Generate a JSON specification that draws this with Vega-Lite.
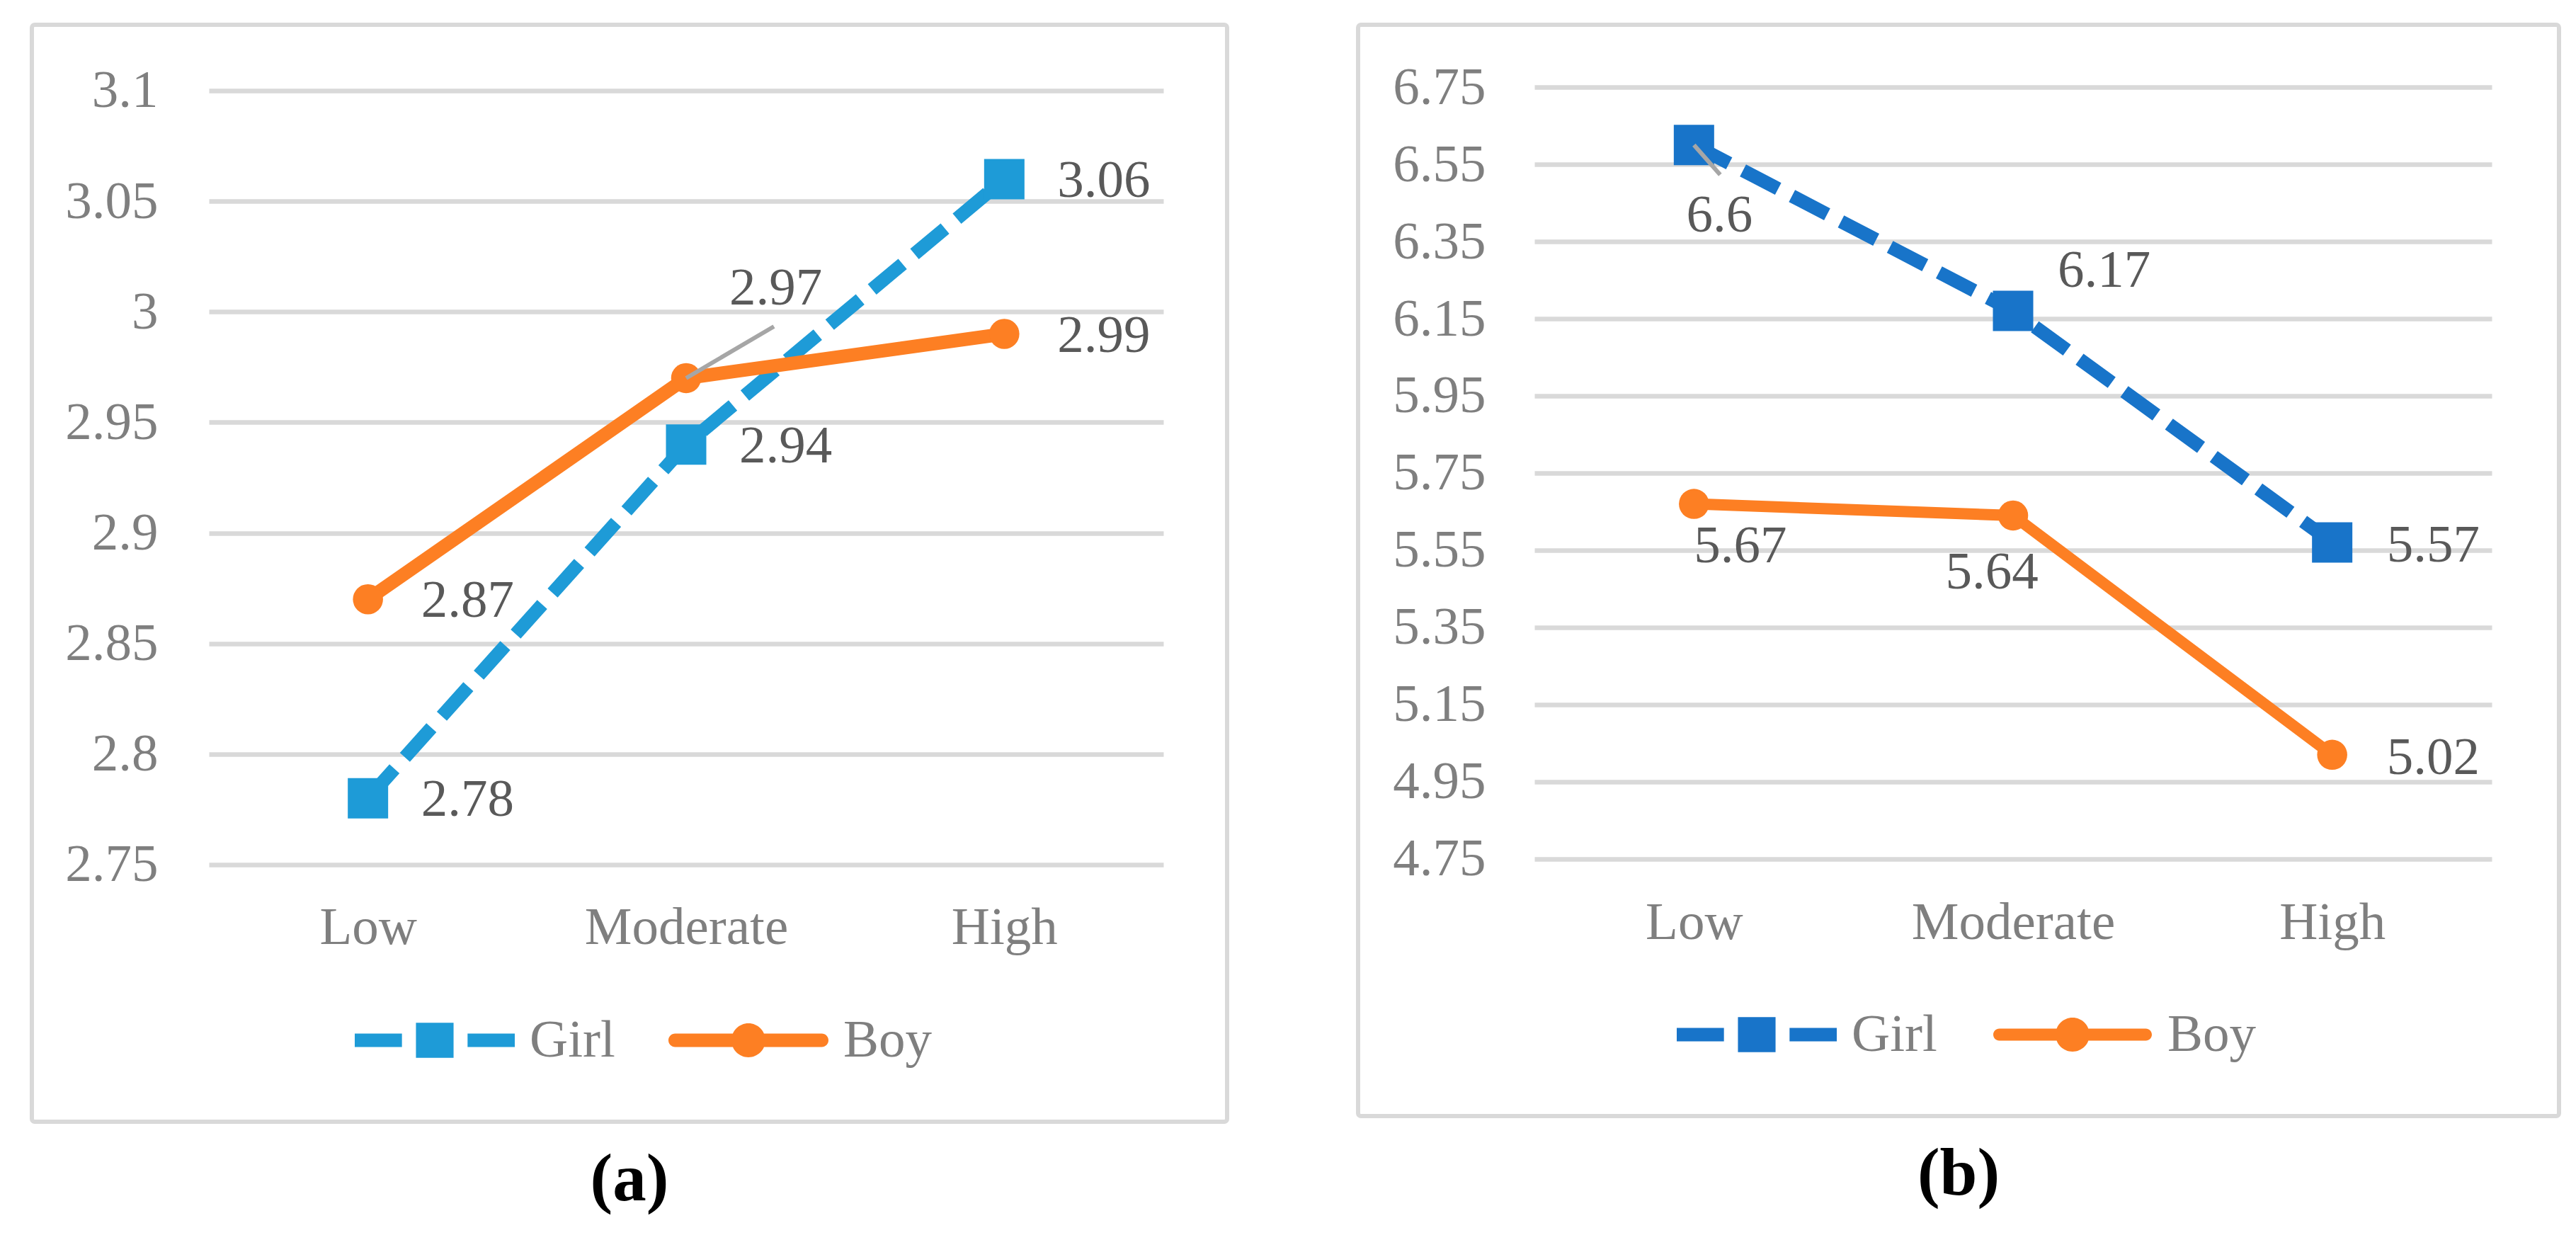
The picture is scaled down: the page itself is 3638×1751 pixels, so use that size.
{
  "$schema": "https://vega.github.io/schema/vega-lite/v6.json",
  "padding": {"left": 42, "top": 32, "right": 0, "bottom": 0},
  "background": "white",
  "datasets": {
    "a": [
      {"level": "Low", "gender": "Girl", "value": 2.78},
      {"level": "Moderate", "gender": "Girl", "value": 2.94},
      {"level": "High", "gender": "Girl", "value": 3.06},
      {"level": "Low", "gender": "Boy", "value": 2.87},
      {"level": "Moderate", "gender": "Boy", "value": 2.97},
      {"level": "High", "gender": "Boy", "value": 2.99}
    ],
    "b": [
      {"level": "Low", "gender": "Girl", "value": 6.6},
      {"level": "Moderate", "gender": "Girl", "value": 6.17},
      {"level": "High", "gender": "Girl", "value": 5.57},
      {"level": "Low", "gender": "Boy", "value": 5.67},
      {"level": "Moderate", "gender": "Boy", "value": 5.64},
      {"level": "High", "gender": "Boy", "value": 5.02}
    ]
  },
  "spacing": 179,
  "resolve": {"scale": {"color": "independent", "y": "independent", "x": "independent"}, "legend": {"color": "independent"}},
  "hconcat": [
    {
      "width": 1688,
      "height": 1549,
      "data": {"name": "a"},
      "title": {"text": "(a)", "orient": "bottom", "fontSize": 95, "fontWeight": "bold", "color": "#000000", "offset": 36, "font": "Liberation Serif"},
      "encoding": {
        "x": {
          "field": "level", "type": "ordinal", "sort": ["Low", "Moderate", "High"],
          "scale": {"type": "point", "range": [250, 1598], "padding": 0.5},
          "axis": {"orient": "bottom", "offset": -252, "grid": false, "domain": false, "ticks": false, "tickSize": 0, "labelPadding": 0, "labelBaseline": "alphabetic", "labelFontSize": 75, "labelColor": "#7F7F7F", "labelFont": "Liberation Serif", "labelLimit": 0, "labelAngle": 0, "title": null}
        },
        "y": {
          "field": "value", "type": "quantitative",
          "scale": {"domain": [2.63376, 3.12978], "nice": false, "zero": false},
          "axis": {"values": [2.75, 2.8, 2.85, 2.9, 2.95, 3, 3.05, 3.1], "format": ".3~g", "offset": -178, "grid": true, "gridColor": "#D9D9D9", "gridWidth": 6.5, "domain": false, "ticks": false, "tickSize": 0, "labelPadding": 0, "labelBaseline": "middle", "labelFontSize": 75, "labelColor": "#7F7F7F", "labelFont": "Liberation Serif", "labelLimit": 0, "title": null}
        },
        "color": {
          "field": "gender", "type": "nominal",
          "scale": {"domain": ["Girl", "Boy"], "range": ["#1E9BD7", "#FD7F23"]},
          "legend": {
            "orient": "none", "legendX": 456, "legendY": 1321, "direction": "horizontal", "title": null,
            "labelFontSize": 75, "labelColor": "#7F7F7F", "labelFont": "Liberation Serif", "labelOffset": 21, "columnPadding": 74, "padding": 0, "symbolSize": 51076, "labelLimit": 0,
            "encode": {"symbols": {"update": {
              "shape": {"signal": "datum.value === 'Girl' ? 'M-1,-0.084H-0.41V0.084H-1Z M-0.235,-0.22H0.235V0.22H-0.235Z M0.41,-0.084H1V0.084H0.41Z' : 'M-0.916,-0.084H0.916A0.084,0.084 0 0,1 0.916,0.084H-0.916A0.084,0.084 0 0,1 -0.916,-0.084Z M-0.212,0A0.212,0.212 0 1,1 0.212,0A0.212,0.212 0 1,1 -0.212,0Z'"},
              "fill": {"signal": "datum.value === 'Girl' ? '#1E9BD7' : '#FD7F23'"},
              "fillOpacity": {"value": 1}, "opacity": {"value": 1}, "strokeWidth": {"value": 0}, "size": {"value": 51076}
            }}}
          }
        }
      },
      "layer": [
        {"transform": [{"filter": "datum.gender === 'Girl'"}], "mark": {"type": "line", "strokeWidth": 19, "strokeDash": [56, 22]}},
        {"transform": [{"filter": "datum.gender === 'Girl'"}], "mark": {"type": "point", "shape": "square", "filled": true, "size": 3249, "opacity": 1}},
        {"transform": [{"filter": "datum.gender === 'Boy'"}], "mark": {"type": "line", "strokeWidth": 19}},
        {"transform": [{"filter": "datum.gender === 'Boy'"}], "mark": {"type": "point", "shape": "circle", "filled": true, "size": 1810, "opacity": 1}},
        {
          "transform": [{"filter": "datum.gender === 'Boy' && datum.level === 'Moderate'"}],
          "mark": {"type": "rule", "strokeWidth": 6, "x2Offset": 124, "y2Offset": -73},
          "encoding": {"x2": {"field": "level"}, "y2": {"field": "value"}, "color": {"value": "#A6A6A6"}}
        },
        {
          "transform": [{"filter": "!(datum.gender === 'Boy' && datum.level === 'Moderate')"}],
          "mark": {"type": "text", "align": "left", "baseline": "middle", "dx": 75, "dy": 2, "fontSize": 75, "font": "Liberation Serif"},
          "encoding": {"text": {"field": "value", "type": "quantitative", "format": "~g"}, "color": {"value": "#595959"}}
        },
        {
          "transform": [{"filter": "datum.gender === 'Boy' && datum.level === 'Moderate'"}],
          "mark": {"type": "text", "align": "left", "baseline": "middle", "dx": 61, "dy": -127, "fontSize": 75, "font": "Liberation Serif"},
          "encoding": {"text": {"field": "value", "type": "quantitative", "format": "~g"}, "color": {"value": "#595959"}}
        }
      ]
    },
    {
      "width": 1696,
      "height": 1541,
      "data": {"name": "b"},
      "title": {"text": "(b)", "orient": "bottom", "fontSize": 95, "fontWeight": "bold", "color": "#000000", "offset": 36, "font": "Liberation Serif"},
      "encoding": {
        "x": {
          "field": "level", "type": "ordinal", "sort": ["Low", "Moderate", "High"],
          "scale": {"type": "point", "range": [249, 1601], "padding": 0.5},
          "axis": {"orient": "bottom", "offset": -251, "grid": false, "domain": false, "ticks": false, "tickSize": 0, "labelPadding": 0, "labelBaseline": "alphabetic", "labelFontSize": 75, "labelColor": "#7F7F7F", "labelFont": "Liberation Serif", "labelLimit": 0, "labelAngle": 0, "title": null}
        },
        "y": {
          "field": "value", "type": "quantitative",
          "scale": {"domain": [4.08394, 6.91147], "nice": false, "zero": false},
          "axis": {"values": [4.75, 4.95, 5.15, 5.35, 5.55, 5.75, 5.95, 6.15, 6.35, 6.55, 6.75], "format": ".3~g", "offset": -180, "grid": true, "gridColor": "#D9D9D9", "gridWidth": 6.5, "domain": false, "ticks": false, "tickSize": 0, "labelPadding": 0, "labelBaseline": "middle", "labelFontSize": 75, "labelColor": "#7F7F7F", "labelFont": "Liberation Serif", "labelLimit": 0, "title": null}
        },
        "color": {
          "field": "gender", "type": "nominal",
          "scale": {"domain": ["Girl", "Boy"], "range": ["#1874C9", "#FD7F23"]},
          "legend": {
            "orient": "none", "legendX": 450, "legendY": 1313, "direction": "horizontal", "title": null,
            "labelFontSize": 75, "labelColor": "#7F7F7F", "labelFont": "Liberation Serif", "labelOffset": 21, "columnPadding": 78, "padding": 0, "symbolSize": 51076, "labelLimit": 0,
            "encode": {"symbols": {"update": {
              "shape": {"signal": "datum.value === 'Girl' ? 'M-1,-0.084H-0.41V0.084H-1Z M-0.235,-0.22H0.235V0.22H-0.235Z M0.41,-0.084H1V0.084H0.41Z' : 'M-0.916,-0.075H0.916A0.075,0.075 0 0,1 0.916,0.075H-0.916A0.075,0.075 0 0,1 -0.916,-0.075Z M-0.212,0A0.212,0.212 0 1,1 0.212,0A0.212,0.212 0 1,1 -0.212,0Z'"},
              "fill": {"signal": "datum.value === 'Girl' ? '#1874C9' : '#FD7F23'"},
              "fillOpacity": {"value": 1}, "opacity": {"value": 1}, "strokeWidth": {"value": 0}, "size": {"value": 51076}
            }}}
          }
        }
      },
      "layer": [
        {"transform": [{"filter": "datum.gender === 'Girl'"}], "mark": {"type": "line", "strokeWidth": 19, "strokeDash": [56, 22]}},
        {"transform": [{"filter": "datum.gender === 'Girl'"}], "mark": {"type": "point", "shape": "square", "filled": true, "size": 3249, "opacity": 1}},
        {"transform": [{"filter": "datum.gender === 'Boy'"}], "mark": {"type": "line", "strokeWidth": 16}},
        {"transform": [{"filter": "datum.gender === 'Boy'"}], "mark": {"type": "point", "shape": "circle", "filled": true, "size": 1810, "opacity": 1}},
        {
          "transform": [{"filter": "datum.gender === 'Girl' && datum.level === 'Low'"}],
          "mark": {"type": "rule", "strokeWidth": 6, "x2Offset": 37, "y2Offset": 42},
          "encoding": {"x2": {"field": "level"}, "y2": {"field": "value"}, "color": {"value": "#A6A6A6"}}
        },
        {
          "transform": [{"filter": "datum.level === 'High'"}],
          "mark": {"type": "text", "align": "left", "baseline": "middle", "dx": 77, "dy": 4, "fontSize": 75, "font": "Liberation Serif"},
          "encoding": {"text": {"field": "value", "type": "quantitative", "format": "~g"}, "color": {"value": "#595959"}}
        },
        {
          "transform": [{"filter": "datum.gender === 'Girl' && datum.level === 'Moderate'"}],
          "mark": {"type": "text", "align": "left", "baseline": "middle", "dx": 63, "dy": -57, "fontSize": 75, "font": "Liberation Serif"},
          "encoding": {"text": {"field": "value", "type": "quantitative", "format": "~g"}, "color": {"value": "#595959"}}
        },
        {
          "transform": [{"filter": "datum.gender === 'Girl' && datum.level === 'Low'"}],
          "mark": {"type": "text", "align": "center", "baseline": "middle", "dx": 36, "dy": 99, "fontSize": 75, "font": "Liberation Serif"},
          "encoding": {"text": {"field": "value", "type": "quantitative", "format": "~g"}, "color": {"value": "#595959"}}
        },
        {
          "transform": [{"filter": "datum.gender === 'Boy' && datum.level === 'Low'"}],
          "mark": {"type": "text", "align": "left", "baseline": "middle", "dx": 0, "dy": 59, "fontSize": 75, "font": "Liberation Serif"},
          "encoding": {"text": {"field": "value", "type": "quantitative", "format": "~g"}, "color": {"value": "#595959"}}
        },
        {
          "transform": [{"filter": "datum.gender === 'Boy' && datum.level === 'Moderate'"}],
          "mark": {"type": "text", "align": "center", "baseline": "middle", "dx": -30, "dy": 80, "fontSize": 75, "font": "Liberation Serif"},
          "encoding": {"text": {"field": "value", "type": "quantitative", "format": "~g"}, "color": {"value": "#595959"}}
        }
      ]
    }
  ],
  "config": {
    "font": "Liberation Serif",
    "view": {"stroke": "#D9D9D9", "strokeWidth": 6, "cornerRadius": 4}
  }
}
